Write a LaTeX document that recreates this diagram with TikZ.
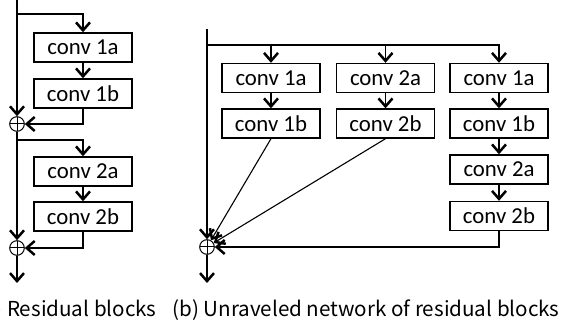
\documentclass[tikz,border=0pt]{standalone}
\usepackage{fontspec}
\setmainfont{Carlito}
\newfontfamily\jpfont{Noto Sans CJK JP}
\usetikzlibrary{arrows.meta}

\begin{document}
\begin{tikzpicture}[x=0.5pt, y=-0.5pt,
    conv/.style={draw, line width=0.7pt, minimum width=49pt, minimum height=14.5pt,
        inner sep=0pt, font=\fontsize{11.4}{13}\selectfont},
    adder/.style={circle, draw, line width=0.5pt, minimum size=7.3pt, inner sep=0pt,
        path picture={\draw (path picture bounding box.north) -- (path picture bounding box.south)
            (path picture bounding box.west) -- (path picture bounding box.east);}},
    arr/.style={-{Straight Barb[length=4pt, width=7pt, line width=1.25pt]}},
    wire/.style={line width=0.85pt},
    thinwire/.style={line width=0.55pt},
    caption/.style={inner sep=0pt, font=\jpfont\fontsize{10.3}{12}\selectfont}]
    \useasboundingbox (0, 0) rectangle (561, 325);
    \def\ax{17}
    \def\ac{83}
    \coordinate (ain) at (\ax, 0);
    \coordinate (asplit1) at (\ax, 14);
    \node[conv] (c1a) at (\ac, 47.5) {conv 1a};
    \node[conv] (c1b) at (\ac, 93.5) {conv 1b};
    \node[adder] (add1) at (\ax, 124) {};
    \coordinate (asplit2) at (\ax, 140);
    \node[conv] (c2a) at (\ac, 171.5) {conv 2a};
    \node[conv] (c2b) at (\ac, 216.5) {conv 2b};
    \node[adder] (add2) at (\ax, 248) {};
    \coordinate (aout) at (\ax, 283);
    \draw[wire, arr] (ain) -- (add1.north);
    \draw[wire, arr] (asplit1) -| (c1a.north);
    \draw[wire, arr] (c1a) -- (c1b);
    \draw[wire, arr] (c1b.south) |- (add1.east);
    \draw[wire, arr] (add1.south) -- (add2.north);
    \draw[wire, arr] (asplit2) -| (c2a.north);
    \draw[wire, arr] (c2a) -- (c2b);
    \draw[wire, arr] (c2b.south) |- (add2.east);
    \draw[wire, arr] (add2.south) -- (aout);
    \node[caption, anchor=base east] (capa) at (157, 316) {(a) Residual blocks};
    \def\bx{207}
    \coordinate (bin) at (\bx, 29);
    \coordinate (bsplit) at (\bx, 45);
    \node[conv] (p1a) at (271, 78) {conv 1a};
    \node[conv] (p1b) at (271, 123.5) {conv 1b};
    \node[conv] (q2a) at (385.5, 78) {conv 2a};
    \node[conv] (q2b) at (385.5, 123.5) {conv 2b};
    \node[conv] (r1a) at (499, 78) {conv 1a};
    \node[conv] (r1b) at (499, 123.5) {conv 1b};
    \node[conv] (r2a) at (499, 169.5) {conv 2a};
    \node[conv] (r2b) at (499, 216) {conv 2b};
    \node[adder] (badd) at (\bx, 247) {};
    \coordinate (bout) at (\bx, 283);
    \draw[wire, arr] (bin) -- (badd.north);
    \draw[thinwire, arr] (bsplit) -| (r1a.north);
    \draw[thinwire, arr] (p1a.north |- bsplit) -- (p1a.north);
    \draw[thinwire, arr] (q2a.north |- bsplit) -- (q2a.north);
    \draw[thinwire, arr] (p1a) -- (p1b);
    \draw[thinwire, arr] (q2a) -- (q2b);
    \draw[thinwire, arr] (r1a) -- (r1b);
    \draw[thinwire, arr] (r1b) -- (r2a);
    \draw[thinwire, arr] (r2a) -- (r2b);
    \draw[thinwire, arr] (p1b.south) -- (badd);
    \draw[thinwire, arr] (q2b.south) -- (badd);
    \draw[thinwire, arr] (r2b.south) |- (badd.east);
    \draw[wire, arr] (badd.south) -- (bout);
    \node[caption, anchor=base east] (capb) at (560, 316) {(b) Unraveled network of residual blocks};
\end{tikzpicture}
\end{document}
